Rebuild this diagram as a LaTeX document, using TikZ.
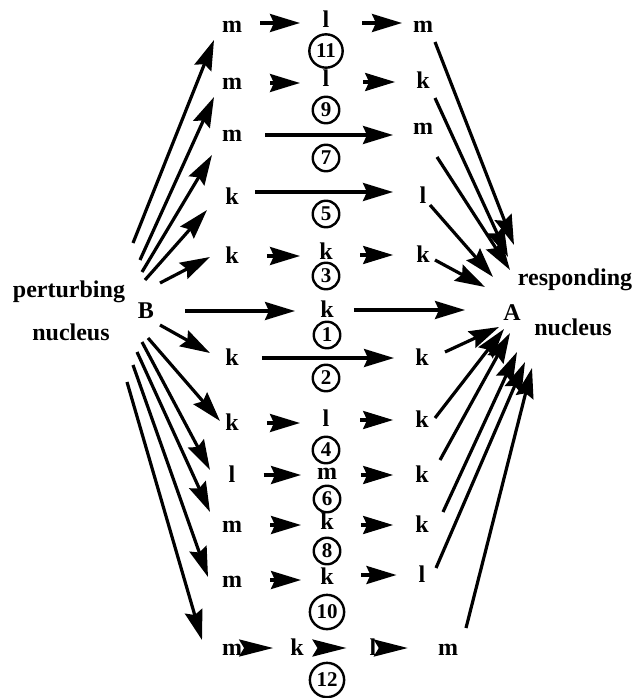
\documentclass[tikz,border=0pt]{standalone}
\usepackage{fontspec}
\setmainfont{Liberation Serif}
\usetikzlibrary{arrows.meta}
\begin{document}
\begin{tikzpicture}[x=1pt,y=-1pt,
  font=\fontsize{24}{28}\selectfont\bfseries,
  lt/.style={inner sep=0pt, text height=14pt, text depth=0pt},
  num/.style={draw, circle, line width=2.4pt, inner sep=3.5pt, text height=13pt, text depth=0pt,
    font=\fontsize{21}{24}\selectfont\bfseries},
  lab/.style={anchor=base, inner sep=0pt},
  arr/.style={-{Stealth[length=30pt,width=18pt,inset=4pt]}, line width=3.2pt},
  hd/.style={-{Stealth[length=34pt,width=17pt,inset=5pt]}, line width=3.2pt}]
\path[fill=white, use as bounding box] (0,0) rectangle (637,698);

% labels
\node[lab] (pert) at (69,297) {perturbing};
\node[lab] (nucB) at (71,340) {nucleus};
\node[lab] (resp) at (575,285) {responding};
\node[lab] (nucA) at (573,335) {nucleus};

% row 11
\node[lt] (L11) at (232,26) {m};
\node[lt] (M11) at (326,21) {l};
\node[lt] (R11) at (423,26) {m};
\node[num] (C11) at (326,51) {11};
% row 9
\node[lt] (L9) at (232,83) {m};
\node[lt] (M9) at (326,80) {l};
\node[lt] (R9) at (423,82) {k};
\node[num] (C9) at (326,110) {9};
% row 7
\node[lt] (L7) at (232,135) {m};
\node[lt] (R7) at (423,128) {m};
\node[num] (C7) at (326,158) {7};
% row 5
\node[lt] (L5) at (232,197) {k};
\node[lt] (R5) at (423,196) {l};
\node[num] (C5) at (326,214) {5};
% row 3
\node[lt] (L3) at (232,256) {k};
\node[lt] (M3) at (326,252) {k};
\node[lt] (R3) at (423,255) {k};
\node[num] (C3) at (326,276) {3};
% row 1
\node[lt] (B) at (146,311) {B};
\node[lt] (M1) at (327,310) {k};
\node[lt] (A) at (512,313) {A};
\node[num] (C1) at (327,335) {1};
% row 2
\node[lt] (L2) at (232,358) {k};
\node[lt] (R2) at (422,358) {k};
\node[num] (C2) at (326,378) {2};
% row 4
\node[lt] (L4) at (232,423) {k};
\node[lt] (M4) at (326,419) {l};
\node[lt] (R4) at (422,420) {k};
\node[num] (C4) at (326,450) {4};
% row 6
\node[lt] (L6) at (232,475) {l};
\node[lt] (M6) at (327,472) {m};
\node[lt] (R6) at (422,475) {k};
\node[num] (C6) at (327,499) {6};
% row 8
\node[lt] (L8) at (232,525) {m};
\node[lt] (M8) at (327,522) {k};
\node[lt] (R8) at (422,525) {k};
\node[num] (C8) at (327,551) {8};
% row 10
\node[lt] (L10) at (232,580) {m};
\node[lt] (M10) at (327,577) {k};
\node[lt] (R10) at (422,575) {l};
\node[num] (C10) at (327,612) {10};
% row 12
\node[lt] (L12) at (232,648) {m};
\node[lt] (K12) at (297,648) {k};
\node[lt] (T12) at (373,648) {l};
\node[lt] (R12) at (448,648) {m};
\node[num] (C12) at (327,680) {12};

% horizontal arrows
\draw[arr, shorten <=28pt, shorten >=26pt] ([yshift=3pt]L11.center) -- ([yshift=3pt]L11.center -| M11.center);
\draw[arr, shorten <=36pt, shorten >=21pt] ([yshift=3pt]R11.center -| M11.center) -- ([yshift=3pt]R11.center);
\draw[arr, shorten <=28pt, shorten >=26pt] (L9) -- (L9 -| M9);
\draw[arr, shorten <=37pt, shorten >=21pt] (R9 -| M9) -- (R9);
\draw[arr, shorten <=23pt, shorten >=30pt] (L7) -- (L7 -| R7);
\draw[arr, shorten <=23pt, shorten >=30pt] ([yshift=5pt]L5.center) -- ([yshift=5pt]L5.center -| R5.center);
\draw[arr, shorten <=28pt, shorten >=26pt] (L3) -- (L3 -| M3);
\draw[arr, shorten <=34pt, shorten >=23pt] (R3 -| M3) -- (R3);
\draw[arr, shorten <=31pt, shorten >=32pt] (B) -- (B -| M1);
\draw[arr, shorten <=20pt, shorten >=47pt] (M1) -- (M1 -| A);
\draw[arr, shorten <=23pt, shorten >=28pt] (L2) -- (L2 -| R2);
\draw[arr, shorten <=28pt, shorten >=26pt] (L4) -- (L4 -| M4);
\draw[arr, shorten <=34pt, shorten >=22pt] (R4 -| M4) -- (R4);
\draw[arr, shorten <=28pt, shorten >=26pt] (L6) -- (L6 -| M6);
\draw[arr, shorten <=34pt, shorten >=22pt] (R6 -| M6) -- (R6);
\draw[arr, shorten <=28pt, shorten >=26pt] (L8) -- (L8 -| M8);
\draw[arr, shorten <=34pt, shorten >=22pt] (R8 -| M8) -- (R8);
\draw[arr, shorten <=28pt, shorten >=26pt] (L10) -- (L10 -| M10);
\draw[arr, shorten <=34pt, shorten >=22pt] (R10 -| M10) -- (R10);
\draw[hd, shorten <=13pt, shorten >=17pt] (L12) -- (K12);
\draw[hd, shorten <=18pt, shorten >=23pt] (K12) -- (T12);
\draw[hd, shorten <=14pt, shorten >=30pt] (T12) -- (R12);

% fan from B
\draw[arr] ([shift={(-13,-68)}]B.center) -- ([shift={(-18,14)}]L11.center);
\draw[arr] ([shift={(-6,-51)}]B.center) -- ([shift={(-18,14)}]L9.center);
\draw[arr] ([shift={(-4,-39)}]B.center) -- ([shift={(-20,20)}]L7.center);
\draw[arr] ([shift={(-1,-31)}]B.center) -- ([shift={(-25,13)}]L5.center);
\draw[arr] ([shift={(14,-28)}]B.center) -- ([shift={(-22,1)}]L3.center);
\draw[arr] ([shift={(14,14)}]B.center) -- ([shift={(-22,-5)}]L2.center);
\draw[arr] ([shift={(2,27)}]B.center) -- ([shift={(-12,-2)}]L4.center);
\draw[arr] ([shift={(-4,31)}]B.center) -- ([shift={(-22,-5)}]L6.center);
\draw[arr] ([shift={(-9,41)}]B.center) -- ([shift={(-22,-13)}]L8.center);
\draw[arr] ([shift={(-13,54)}]B.center) -- ([shift={(-24,-3)}]L10.center);
\draw[arr] ([shift={(-19,71)}]B.center) -- ([shift={(-30,-8)}]L12.center);

% fan into A
\draw[arr] ([shift={(12,16)}]R11.center) -- ([shift={(2,-68)}]A.center);
\draw[arr] ([shift={(12,16)}]R9.center) -- ([shift={(-4,-56)}]A.center);
\draw[arr] ([shift={(14,29)}]R7.center) -- ([shift={(-2,-43)}]A.center);
\draw[arr] ([shift={(7,9)}]R5.center) -- ([shift={(-19,-36)}]A.center);
\draw[arr] ([shift={(12,5)}]R3.center) -- ([shift={(-27,-26)}]A.center);
\draw[arr] ([shift={(23,-6)}]R2.center) -- ([shift={(-13,14)}]A.center);
\draw[arr] ([shift={(13,-2)}]R4.center) -- ([shift={(-8,16)}]A.center);
\draw[arr] ([shift={(18,-15)}]R6.center) -- ([shift={(-2,20)}]A.center);
\draw[arr] ([shift={(21,-13)}]R8.center) -- ([shift={(5,39)}]A.center);
\draw[arr] ([shift={(14,-7)}]R10.center) -- ([shift={(13,49)}]A.center);
\draw[arr] ([shift={(18,-20)}]R12.center) -- ([shift={(20,55)}]A.center);
\end{tikzpicture}
\end{document}
